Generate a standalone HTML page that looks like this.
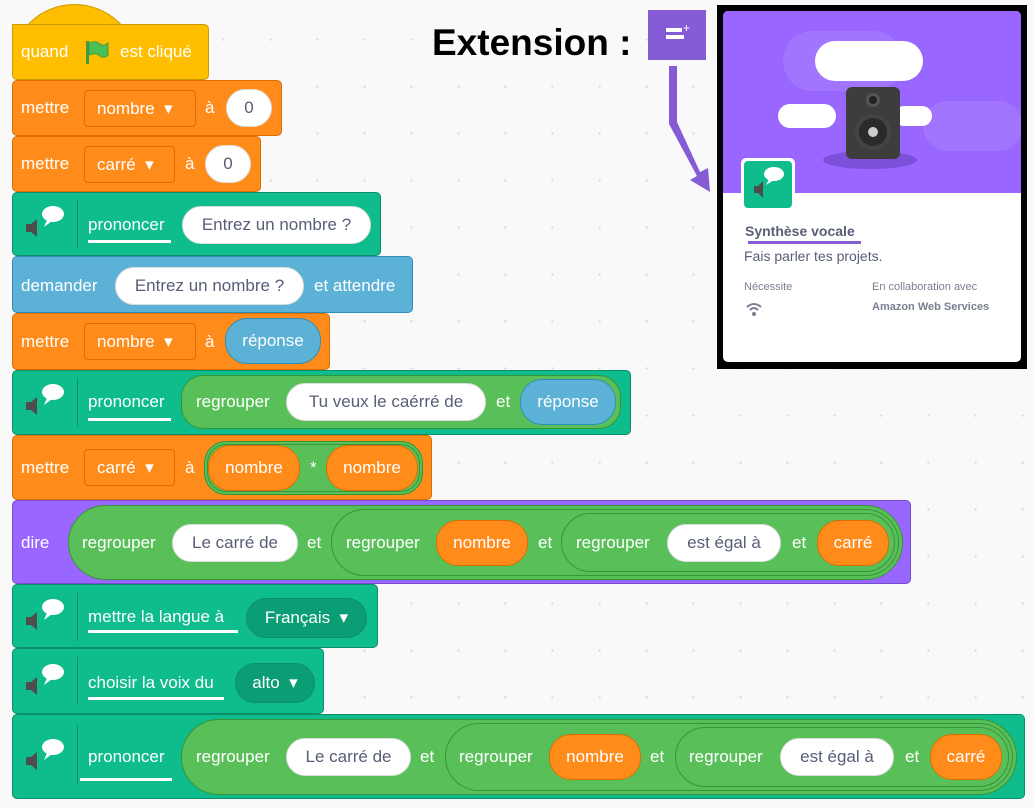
<!DOCTYPE html>
<html><head><meta charset="utf-8"><style>
*{box-sizing:border-box;margin:0;padding:0}
body{width:1034px;height:808px;position:relative;overflow:hidden;background:#f9f9f9;background-image:radial-gradient(circle,#ddd 1px,transparent 1.5px);background-size:47px 47px;background-position:12px 16px;font-family:"Liberation Sans",sans-serif}
.a{position:absolute}
.blk{position:absolute;border-radius:5px;border:1px solid}
.o{background:#ff8c1a;border-color:#db6e00}
.g{background:#0fbd8c;border-color:#0b8e69}
.y{background:#ffbf00;border-color:#cc9900}
.bl{background:#5cb1d6;border-color:#2e8eb8}
.pu{background:#9966ff;border-color:#774dcb}
.t{position:absolute;color:#fff;font-size:17px;line-height:20px;white-space:nowrap}
.pill{position:absolute;border-radius:22px;display:flex;align-items:center;justify-content:center;font-size:17px;white-space:nowrap}
.w{background:#fff;color:#575e75;border:1px solid #ddd}
.op{background:#59c059;border:1px solid #389438}
.ov{background:#ff8c1a;border:1px solid #db6e00;color:#fff}
.bv{background:#5cb1d6;border:1px solid #2e8eb8;color:#fff}
.dd{position:absolute;border:1px solid #db6e00;background:#ff8c1a;border-radius:4px;color:#fff;font-size:17px;display:flex;align-items:center;padding-left:12px;white-space:nowrap}
.gd{background:#0b9e75;border:1px solid #0b8e69;color:#fff}
.ul{position:absolute;height:3px;background:#fff}
</style></head><body>

<!-- hat -->
<div class="a" style="left:12px;top:4px;width:125px;height:60px;background:#ffbf00;border:1px solid #cc9900;border-radius:50% 50% 0 0 / 100% 100% 0 0"></div>
<div class="blk y" style="left:12px;top:24px;width:197px;height:56px;border-top-left-radius:0"></div>
<div class="a" style="left:13px;top:30px;width:123px;height:20px;background:#ffbf00"></div>
<div class="t" style="left:21px;top:42px">quand</div>
<svg class="a" style="left:84px;top:40px" width="26" height="26"><rect x="2" y="1" width="3" height="23" fill="#45993d"/><path d="M5 3 Q12 0 16 4 Q20 7 24 3 L24 15 Q20 19 16 16 Q12 12 5 15Z" fill="#4cbf56" stroke="#45993d"/></svg>
<div class="t" style="left:120px;top:42px">est cliqué</div>

<!-- mettre nombre 0 -->
<div class="blk o" style="left:12px;top:80px;width:270px;height:56px"></div>
<div class="t" style="left:21px;top:98px">mettre</div>
<div class="dd" style="left:84px;top:90px;width:112px;height:37px">nombre&nbsp;&nbsp;▾</div>
<div class="t" style="left:205px;top:98px">à</div>
<div class="pill w" style="left:226px;top:89px;width:46px;height:38px">0</div>

<!-- mettre carré 0 -->
<div class="blk o" style="left:12px;top:136px;width:249px;height:56px"></div>
<div class="t" style="left:21px;top:154px">mettre</div>
<div class="dd" style="left:84px;top:146px;width:91px;height:37px">carré&nbsp;&nbsp;▾</div>
<div class="t" style="left:185px;top:154px">à</div>
<div class="pill w" style="left:205px;top:145px;width:46px;height:38px">0</div>

<!-- prononcer -->
<div class="blk g" style="left:12px;top:192px;width:369px;height:64px"></div>
<div class="t" style="left:88px;top:215px">prononcer</div>
<div class="ul" style="left:88px;top:240px;width:83px"></div>
<div class="pill w" style="left:182px;top:206px;width:189px;height:38px">Entrez un nombre ?</div>

<!-- demander -->
<div class="blk bl" style="left:12px;top:256px;width:401px;height:57px"></div>
<div class="t" style="left:21px;top:276px">demander</div>
<div class="pill w" style="left:115px;top:267px;width:189px;height:38px">Entrez un nombre ?</div>
<div class="t" style="left:314px;top:276px">et attendre</div>

<!-- mettre nombre réponse -->
<div class="blk o" style="left:12px;top:313px;width:318px;height:57px"></div>
<div class="t" style="left:21px;top:332px">mettre</div>
<div class="dd" style="left:84px;top:323px;width:112px;height:37px">nombre&nbsp;&nbsp;▾</div>
<div class="t" style="left:205px;top:332px">à</div>
<div class="pill bv" style="left:225px;top:318px;width:96px;height:46px">réponse</div>

<!-- prononcer regrouper -->
<div class="blk g" style="left:12px;top:370px;width:619px;height:65px"></div>
<div class="t" style="left:88px;top:392px">prononcer</div>
<div class="ul" style="left:88px;top:418px;width:83px"></div>
<div class="pill op" style="left:181px;top:375px;width:440px;height:54px"></div>
<div class="t" style="left:196px;top:392px">regrouper</div>
<div class="pill w" style="left:286px;top:383px;width:200px;height:38px">Tu veux le caérré de</div>
<div class="t" style="left:496px;top:392px">et</div>
<div class="pill bv" style="left:520px;top:379px;width:96px;height:46px">réponse</div>

<!-- mettre carré nombre*nombre -->
<div class="blk o" style="left:12px;top:435px;width:420px;height:65px"></div>
<div class="t" style="left:21px;top:458px">mettre</div>
<div class="dd" style="left:84px;top:449px;width:91px;height:37px">carré&nbsp;&nbsp;▾</div>
<div class="t" style="left:185px;top:458px">à</div>
<div class="pill op" style="left:204px;top:441px;width:219px;height:54px;box-shadow:inset 0 0 0 2px #59c059,inset 0 0 0 3px #389438"></div>
<div class="pill ov" style="left:208px;top:445px;width:92px;height:46px">nombre</div>
<div class="t" style="left:310px;top:458px">*</div>
<div class="pill ov" style="left:326px;top:445px;width:92px;height:46px">nombre</div>

<!-- dire -->
<div class="blk pu" style="left:12px;top:500px;width:899px;height:84px"></div>
<div class="t" style="left:21px;top:533px">dire</div>
<div class="pill op" style="left:68px;top:505px;width:835px;height:75px;border-radius:38px"></div>
<div class="t" style="left:82px;top:533px">regrouper</div>
<div class="pill w" style="left:172px;top:524px;width:126px;height:38px">Le carré de</div>
<div class="t" style="left:307px;top:533px">et</div>
<div class="pill op" style="left:331px;top:509px;width:568px;height:67px;border-radius:34px"></div>
<div class="t" style="left:346px;top:533px">regrouper</div>
<div class="pill ov" style="left:436px;top:520px;width:92px;height:46px">nombre</div>
<div class="t" style="left:538px;top:533px">et</div>
<div class="pill op" style="left:561px;top:513px;width:334px;height:59px;border-radius:30px"></div>
<div class="t" style="left:576px;top:533px">regrouper</div>
<div class="pill w" style="left:667px;top:524px;width:114px;height:38px">est égal à</div>
<div class="t" style="left:792px;top:533px">et</div>
<div class="pill ov" style="left:817px;top:520px;width:72px;height:46px">carré</div>

<!-- langue -->
<div class="blk g" style="left:12px;top:584px;width:366px;height:64px"></div>
<div class="t" style="left:88px;top:607px">mettre la langue à</div>
<div class="ul" style="left:88px;top:630px;width:150px"></div>
<div class="pill gd" style="left:246px;top:598px;width:121px;height:40px">Français&nbsp;&nbsp;▾</div>

<!-- voix -->
<div class="blk g" style="left:12px;top:648px;width:312px;height:66px"></div>
<div class="t" style="left:88px;top:673px">choisir la voix du</div>
<div class="ul" style="left:88px;top:697px;width:136px"></div>
<div class="pill gd" style="left:235px;top:663px;width:80px;height:40px">alto&nbsp;&nbsp;▾</div>

<!-- prononcer final -->
<div class="blk g" style="left:12px;top:714px;width:1013px;height:85px"></div>
<div class="t" style="left:88px;top:747px">prononcer</div>
<div class="ul" style="left:80px;top:778px;width:92px"></div>
<div class="pill op" style="left:181px;top:719px;width:836px;height:76px;border-radius:38px"></div>
<div class="t" style="left:196px;top:747px">regrouper</div>
<div class="pill w" style="left:286px;top:738px;width:125px;height:38px">Le carré de</div>
<div class="t" style="left:420px;top:747px">et</div>
<div class="pill op" style="left:445px;top:723px;width:568px;height:68px;border-radius:34px"></div>
<div class="t" style="left:459px;top:747px">regrouper</div>
<div class="pill ov" style="left:549px;top:734px;width:92px;height:46px">nombre</div>
<div class="t" style="left:650px;top:747px">et</div>
<div class="pill op" style="left:675px;top:727px;width:334px;height:60px;border-radius:30px"></div>
<div class="t" style="left:689px;top:747px">regrouper</div>
<div class="pill w" style="left:780px;top:738px;width:114px;height:38px">est égal à</div>
<div class="t" style="left:905px;top:747px">et</div>
<div class="pill ov" style="left:930px;top:734px;width:72px;height:46px">carré</div>

<!-- speech icons -->
<svg class="a" style="left:0;top:0" width="90" height="808">
<defs><g id="ic"><ellipse cx="13" cy="-4" rx="11" ry="8" fill="#fff"/><path d="M7 2 L4 9 L12 3Z" fill="#fff"/><rect x="-14" y="6" width="5" height="8" fill="#4d4d4d"/><path d="M-9 6 L-3 1 L-3 19 L-9 14Z" fill="#4d4d4d"/></g></defs>
<use href="#ic" x="40" y="218"/><use href="#ic" x="40" y="396"/><use href="#ic" x="40" y="611"/><use href="#ic" x="40" y="676"/><use href="#ic" x="40" y="751"/>
<rect x="77" y="200" width="1" height="48" fill="#0b8e69"/><rect x="77" y="378" width="1" height="48" fill="#0b8e69"/><rect x="77" y="593" width="1" height="48" fill="#0b8e69"/><rect x="77" y="657" width="1" height="48" fill="#0b8e69"/><rect x="77" y="725" width="1" height="60" fill="#0b8e69"/>
</svg>

<!-- Extension label -->
<div class="a" style="left:432px;top:22px;font:bold 37px 'Liberation Sans',sans-serif;color:#000;white-space:nowrap">Extension :</div>
<div class="a" style="left:648px;top:10px;width:58px;height:50px;background:#855cd6"></div>
<svg class="a" style="left:660px;top:22px" width="36" height="26"><rect x="6" y="6" width="16" height="4" fill="#fff"/><rect x="6" y="13" width="18" height="4" fill="#fff"/><text x="23" y="10" fill="#fff" font-size="12" font-family="Liberation Sans">+</text></svg>
<svg class="a" style="left:0;top:0" width="1034" height="808">
<path d="M669 66 L677 66 L677 122 L700 172 L708 168 L710 192 L690 180 L697 176 L669 124Z" fill="#855cd6"/>
</svg>

<!-- card -->
<div class="a" style="left:717px;top:5px;width:310px;height:364px;background:#000"></div>
<div class="a" style="left:723px;top:11px;width:298px;height:351px;background:#fff;border-radius:5px;overflow:hidden">
 <div class="a" style="left:0;top:0;width:298px;height:182px;background:#9966ff"></div>
 <div class="a" style="left:60px;top:20px;width:120px;height:60px;background:#a87fff;border-radius:40px;opacity:.6"></div>
 <div class="a" style="left:200px;top:90px;width:100px;height:50px;background:#a87fff;border-radius:40px;opacity:.6"></div>
 <div class="a" style="left:92px;top:30px;width:108px;height:40px;background:#fff;border-radius:20px"></div>
 <div class="a" style="left:55px;top:93px;width:58px;height:24px;background:#fff;border-radius:12px"></div>
 <div class="a" style="left:171px;top:95px;width:38px;height:20px;background:#fff;border-radius:10px"></div>
 <div class="a" style="left:100px;top:140px;width:94px;height:18px;background:#7d50d9;border-radius:50%"></div>
 <div class="a" style="left:123px;top:76px;width:54px;height:72px;background:#3d3d3d;border-radius:6px"></div>
 <div class="a" style="left:143px;top:82px;width:14px;height:14px;background:#222;border-radius:50%;border:3px solid #555"></div>
 <div class="a" style="left:132px;top:103px;width:36px;height:36px;background:#2a2a2a;border-radius:50%;border:4px solid #444"></div>
 <div class="a" style="left:145px;top:116px;width:10px;height:10px;background:#ccc;border-radius:50%"></div>
 <div class="a" style="left:18px;top:147px;width:54px;height:53px;background:#fff;border-radius:5px"></div>
 <div class="a" style="left:21px;top:150px;width:48px;height:47px;background:#0fbd8c;border-radius:4px"></div>
 <svg class="a" style="left:21px;top:150px" width="48" height="47"><ellipse cx="30" cy="13" rx="10" ry="7" fill="#fff"/><path d="M25 18 L22 24 L30 19Z" fill="#fff"/><rect x="10" y="25" width="4" height="7" fill="#4d4d4d"/><path d="M14 25 L19 20 L19 37 L14 32Z" fill="#4d4d4d"/></svg>
 <div class="a" style="left:22px;top:212px;font:bold 14px 'Liberation Sans',sans-serif;color:#575e75">Synthèse vocale</div>
 <div class="a" style="left:25px;top:230px;width:113px;height:3px;background:#855cd6"></div>
 <div class="a" style="left:21px;top:237px;font:14px 'Liberation Sans',sans-serif;color:#575e75">Fais parler tes projets.</div>
 <div class="a" style="left:21px;top:270px;font:11px 'Liberation Sans',sans-serif;color:#7a7f90">Nécessite</div>
 <div class="a" style="left:149px;top:270px;font:11px 'Liberation Sans',sans-serif;color:#7a7f90">En collaboration avec</div>
 <div class="a" style="left:149px;top:290px;font:bold 11px 'Liberation Sans',sans-serif;color:#7a7f90">Amazon Web Services</div>
 <svg class="a" style="left:22px;top:290px" width="18" height="16"><path d="M2 6 Q9 0 16 6" stroke="#7a7f90" stroke-width="2" fill="none"/><path d="M5 9 Q9 5 13 9" stroke="#7a7f90" stroke-width="2" fill="none"/><circle cx="9" cy="13" r="2" fill="#7a7f90"/></svg>
</div>
</body></html>
